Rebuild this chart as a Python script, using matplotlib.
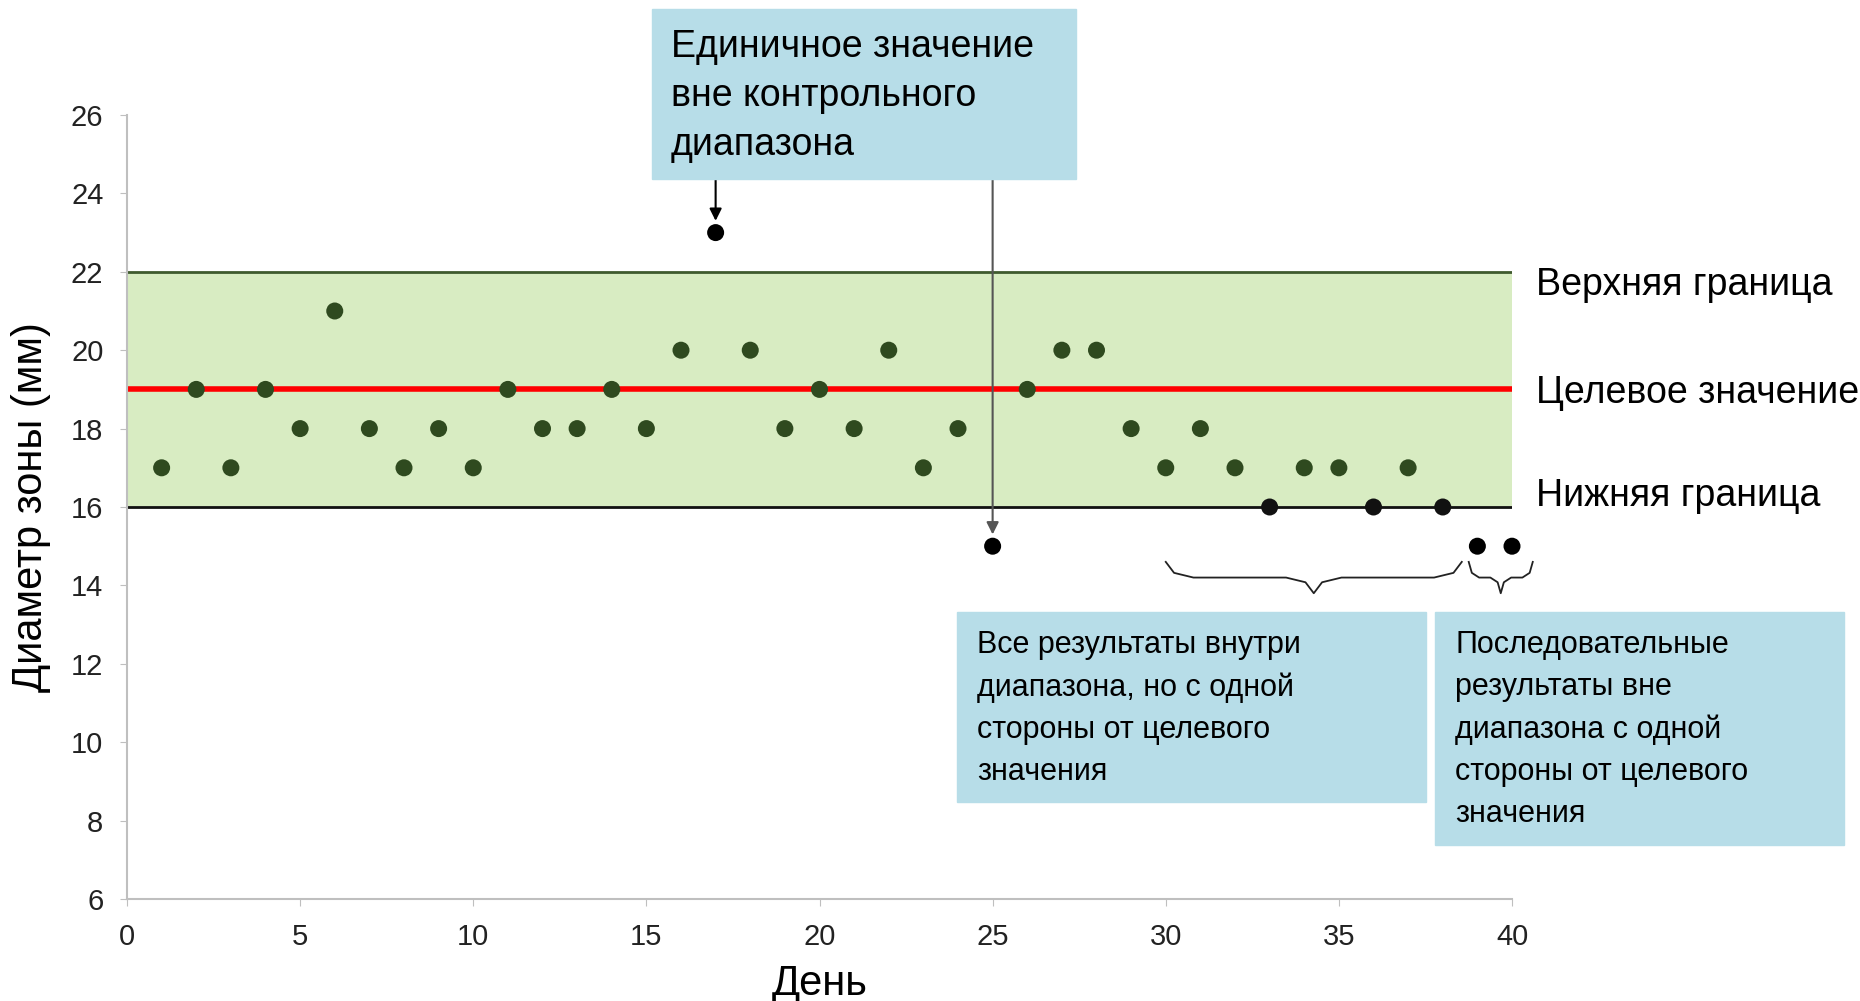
import matplotlib

matplotlib.use("Agg")
import matplotlib.pyplot as plt
from matplotlib.patches import Rectangle

plt.rcParams["font.family"] = ["Liberation Sans", "DejaVu Sans"]

# data
days = list(range(1, 41))
diam = [17, 19, 17, 19, 18, 21, 18, 17, 18, 17,
        19, 18, 18, 19, 18, 20, 23, 20, 18, 19,
        18, 20, 17, 18, 15, 19, 20, 20, 18, 17,
        18, 17, 16, 17, 17, 16, 17, 16, 15, 15]
upper, target, lower = 22, 19, 16
x_ticks = [0, 5, 10, 15, 20, 25, 30, 35, 40]
y_ticks = [6, 8, 10, 12, 14, 16, 18, 20, 22, 24, 26]
limit_labels = ["Верхняя граница", "Целевое значение", "Нижняя граница"]
box_top = "Единичное значение\nвне контрольного\nдиапазона"
box_left = "Все результаты внутри\nдиапазона, но с одной\nстороны от целевого\nзначения"
box_right = "Последовательные\nрезультаты вне\nдиапазона с одной\nстороны от целевого\nзначения"

W, H = 1860, 1001
fig = plt.figure(figsize=(W / 100, H / 100), dpi=100)
ax = fig.add_axes([127 / W, 1 - 899 / H, (1512 - 127) / W, (899 - 115) / H])


def fx(px):
    return px / W


def fy(py):
    return 1 - py / H


ax.set_xlim(0, 40)
ax.set_ylim(6, 26)
ax.axhspan(lower, upper, color="#d8ecc2", zorder=0)
ax.axhline(upper, color="#3f5a2e", lw=2, zorder=1)
ax.axhline(lower, color="#111111", lw=2, zorder=1)
ax.axhline(target, color="#ff0000", lw=4, zorder=2)

colors = []
for v in diam:
    if v > upper or v < lower:
        colors.append("black")
    elif v == lower:
        colors.append("#111111")
    else:
        colors.append("#2f4a1f")
ax.scatter(days, diam, s=150, c=colors, zorder=3, linewidths=0, clip_on=False)

ax.set_xticks(x_ticks)
ax.set_yticks(y_ticks)
ax.tick_params(labelsize=21, colors="#bfbfbf", labelcolor="#222222", length=5, pad=12)
for s in ("top", "right"):
    ax.spines[s].set_visible(False)
for s in ("left", "bottom"):
    ax.spines[s].set_color("#bfbfbf")
    ax.spines[s].set_linewidth(1.5)
ax.set_xlabel("День", fontsize=30, labelpad=10)
ax.set_ylabel("Диаметр зоны (мм)", fontsize=30, labelpad=14)

# labels for the limit lines (pixel offset below each line)
for txt, yv, off in zip(limit_labels, (upper, target, lower), (13, 4, -11)):
    yp = ax.transData.transform((0, yv))[1]
    fig.text(fx(1536), (yp - off) / H, txt, fontsize=27, va="center", ha="left")

# boxes
blue = "#b7dde8"
fig.add_artist(Rectangle((fx(652), fy(179)), fx(1076 - 652), (179 - 9) / H,
                         color=blue, zorder=5))
fig.text(fx(671), fy(29), box_top, fontsize=27, va="top", ha="left",
         linespacing=1.47, zorder=6)
fig.add_artist(Rectangle((fx(957), fy(802)), fx(1426 - 957), (802 - 612) / H,
                         color=blue, zorder=5))
fig.text(fx(977), fy(630), box_left, fontsize=22, va="top", ha="left",
         linespacing=1.52, zorder=6)
fig.add_artist(Rectangle((fx(1435), fy(845)), fx(1844 - 1435), (845 - 612) / H,
                         color=blue, zorder=5))
fig.text(fx(1455), fy(630), box_right, fontsize=22, va="top", ha="left",
         linespacing=1.52, zorder=6)

# arrows from the top box
box_bottom = ax.transData.inverted().transform((0, H - 179))[1]
ax.annotate("", xy=(17, 23.3), xytext=(17, box_bottom),
            arrowprops=dict(arrowstyle="-|>", color="black", lw=1.5,
                            mutation_scale=18, shrinkA=0, shrinkB=0),
            annotation_clip=False)
ax.annotate("", xy=(25, 15.3), xytext=(25, box_bottom),
            arrowprops=dict(arrowstyle="-|>", color="#555555", lw=1.5,
                            mutation_scale=18, shrinkA=0, shrinkB=0),
            annotation_clip=False)


def brace(x0, x1, ytop, ybot, ytip, r):
    xm = (x0 + x1) / 2
    xs = [x0, x0 + r * 0.3, x0 + r, xm - r, xm - r * 0.3, xm,
          xm + r * 0.3, xm + r, x1 - r, x1 - r * 0.3, x1]
    ys = [ytop, ybot + (ytop - ybot) * 0.3, ybot, ybot,
          ybot - (ybot - ytip) * 0.3, ytip,
          ybot - (ybot - ytip) * 0.3, ybot, ybot,
          ybot + (ytop - ybot) * 0.3, ytop]
    ax.plot(xs, ys, color="#222222", lw=1.3, clip_on=False)


brace(30.0, 38.55, 14.6, 14.2, 13.8, 0.8)
brace(38.75, 40.6, 14.6, 14.2, 13.8, 0.3)

fig.savefig("out.png", dpi=100)
